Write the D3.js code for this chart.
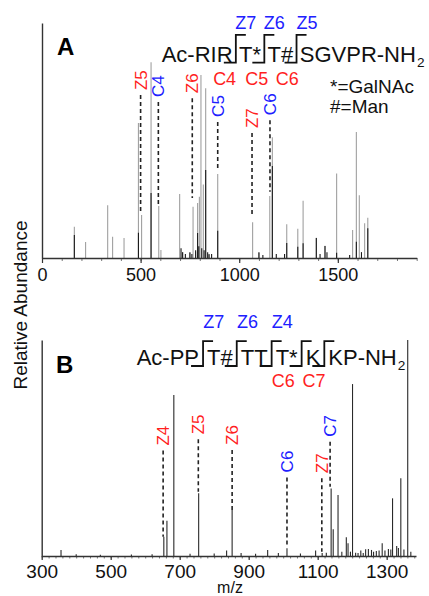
<!DOCTYPE html>
<html><head><meta charset="utf-8">
<script src="https://cdn.jsdelivr.net/npm/d3@7"></script>
<style>
body{margin:0;background:#fff}
svg{display:block}
text{font-family:"Liberation Sans",Arial,sans-serif}
</style>
</head><body>
<svg id="c" width="429" height="596"></svg>
<script>
// ---------------- Panel A data ----------------
const aGrayMz  = [164,221,333,358,416,489,505,553,592,603,698,713,750,766,779,789,798,806,818,830,847,891,1068,1100,1155,1168,1241,1297,1324,1391,1435,1494,1575,1594,1609,1636,1652];
const aGrayInt = [16,8.2,27,10.9,10.2,69,21.9,100,26.5,4.1,32.7,3.1,2.7,26.2,3.2,28.1,31.3,93.4,37.5,86.7,1.5,42.9,18.2,2.7,31.6,61.7,17.2,15,29.2,10.4,6.3,43.2,14.3,64.4,32.1,17.7,20.6];
const aBlackMz  = [164,489,553,705,713,727,750,760,779,789,795,810,822,830,840,847,860,891,1100,1120,1168,1188,1230,1241,1297,1324,1391,1410,1435,1445,1494,1560,1594,1620,1652];
const aBlackInt = [11.7,12.9,33.2,5,3,2,3,2,4,12.8,6,5,4,45,3,2,2,13.9,3,1.5,47,2,2,7.7,5.8,7.5,10.2,2,6.1,3,2.7,1.5,8.3,3,15.2];
const aXTicks = [0,500,1000,1500];
const aAnnLabel  = ["Z5","C4","Z6","C5","Z7","C6"];
const aAnnMz     = [500,590,762,891,1065,1156];
const aAnnTop    = [83.2,79.7,81.6,69.5,63.8,70.4];
const aAnnBottom = [23,27,30.6,45.9,21.1,33.8];
const aSeqSegments = ["Ac-RIR","T*","T#","SGVPR-NH"];
const aSeqTopLabels = ["Z7","Z6","Z5"];
const aSeqBottomLabels = ["C4","C5","C6"];
const aLegend = ["*=GalNAc","#=Man"];

// ---------------- Panel B data ----------------
const bMz  = [356,400,470,560,620,654,663,683,730,755,800,836,852,878,920,955,986,1011,1050,1094,1113,1125,1139,1145,1159,1170,1183,1188,1195,1201,1210,1217,1225,1232,1239,1247,1256,1262,1270,1278,1287,1295,1305,1312,1317,1329,1334,1341,1350,1361,1370];
const bInt = [2.8,0.8,0.6,0.7,0.8,8.9,16.3,74.5,1,29,1.2,2.5,21.3,1.4,1,2.8,1.4,3.6,1.2,2.5,1.4,1.5,31.3,12.4,28.2,2,8.7,5.9,2,79.6,1.5,1.4,2.5,1.4,3.1,3.2,2.8,2,2.3,2.5,5.9,2.5,3.2,3,26.7,4.6,3.7,36,3,100,2];
const bXTicks = [300,500,700,900,1100,1300];
const bAnnLabel  = ["Z4","Z5","Z6","C6","Z7","C7"];
const bAnnMz     = [652,754,852,1011,1112,1136];
const bAnnTop    = [48.8,54,49.1,36.4,36,52.9];
const bAnnBottom = [8.9,29.8,21.3,4.3,2,32.1];
const bSeqSegments = ["Ac-PP","T#","TT","T*","K","KP-NH"];
const bSeqTopLabels = ["Z7","Z6","Z4","",""];
const bSeqBottomLabels = ["","","","C6","C7"];

const RED = "#ff1f1f", BLUE = "#2020ff";
const svg = d3.select("#c");

function drawPanel(o) {
  const x = d3.scaleLinear().domain(o.xDomain).range([o.xLeft, o.xRight]);
  const y = d3.scaleLinear().domain(o.yDomain).range([o.yBase, o.yTop]);
  const g = svg.append("g");

  o.series.forEach(s => {
    g.append("g").selectAll("line").data(d3.zip(s.mz, s.int)).join("line")
      .attr("x1", d => x(d[0])).attr("x2", d => x(d[0]))
      .attr("y1", y(0)).attr("y2", d => y(d[1]))
      .attr("stroke", s.color).attr("stroke-width", s.width);
  });

  const minor = d3.axisBottom(x).tickValues(d3.range(o.xDomain[0], o.xDomain[1] + 1e-6, o.minorStep))
    .tickSize(o.minorLen).tickSizeOuter(0).tickFormat("");
  const gm = g.append("g").attr("transform", `translate(0,${o.yBase})`).call(minor);
  gm.select(".domain").remove();
  gm.selectAll("line").attr("stroke", "#555").attr("stroke-width", 0.8);

  const ax = d3.axisBottom(x).tickValues(o.xTicks).tickFormat(d3.format("d"))
    .tickSize(o.majorLen).tickSizeOuter(0).tickPadding(o.labelPad);
  const ga = g.append("g").attr("transform", `translate(0,${o.yBase})`).call(ax);
  ga.select(".domain").attr("stroke", "#333").attr("stroke-width", 1.3);
  ga.selectAll("line").attr("stroke", "#333").attr("stroke-width", 1.2);
  ga.selectAll("text").attr("font-size", o.tickFont).attr("fill", "#111")
    .attr("font-family", '"Liberation Sans",Arial,sans-serif');

  const ay = d3.axisLeft(y).tickValues([]).tickSizeOuter(0);
  const gy = g.append("g").attr("transform", `translate(${o.xLeft},0)`).call(ay);
  gy.select(".domain").attr("stroke", "#333").attr("stroke-width", 1.4);

  const ann = d3.range(o.ann.label.length).map(i => ({
    label: o.ann.label[i], mz: o.ann.mz[i], top: o.ann.top[i], bottom: o.ann.bottom[i]
  }));
  g.append("g").selectAll("line").data(ann).join("line")
    .attr("x1", d => x(d.mz)).attr("x2", d => x(d.mz))
    .attr("y1", d => y(d.top)).attr("y2", d => y(d.bottom))
    .attr("stroke", "#222").attr("stroke-width", 1.6).attr("stroke-dasharray", "4,3");
  g.append("g").selectAll("text").data(ann).join("text")
    .attr("transform", d => `translate(${x(d.mz) + o.annFont * 0.36},${y(d.top) - 5}) rotate(-90)`)
    .attr("font-size", o.annFont)
    .attr("fill", d => d.label[0] === "Z" ? RED : BLUE)
    .text(d => d.label);

  g.append("text").attr("x", o.letterX).attr("y", o.letterY)
    .attr("font-size", 24).attr("font-weight", "bold").text(o.letter);

  drawSequence(o.seq);
  return {x, y};
}

function drawSequence(s) {
  const g = svg.append("g");
  let cx = s.x;
  const segs = [];
  s.segments.forEach((t, i) => {
    const te = g.append("text").attr("x", cx).attr("y", s.baseline)
      .attr("font-size", s.font).attr("fill", "#111").text(t);
    const n = te.node();
    const w = n.getComputedTextLength();
    const firstW = n.getSubStringLength(0, 1);
    const lastW = n.getSubStringLength(t.length - 1, 1);
    segs.push({x0: cx, x1: cx + w, firstW, lastW});
    cx += w + s.gap;
  });
  g.append("text").attr("x", cx - s.gap + 1).attr("y", s.baseline + 5)
    .attr("font-size", s.font * 0.62).attr("fill", "#111").text("2");
  const capTop = s.baseline - s.font * 0.72;
  for (let i = 0; i < segs.length - 1; i++) {
    const bx = (segs[i].x1 + segs[i + 1].x0) / 2;
    const path = d3.path();
    path.moveTo(bx - s.under, s.baseline + 1);
    path.lineTo(bx, s.baseline + 1);
    path.lineTo(bx, capTop - s.over);
    path.lineTo(bx + s.overLen, capTop - s.over);
    g.append("path").attr("d", path.toString()).attr("fill", "none")
      .attr("stroke", "#111").attr("stroke-width", 1.8);
    const zc = segs[i + 1].x0 + segs[i + 1].firstW / 2;
    const cc = segs[i].x1 - segs[i].lastW / 2 + (s.bottomShift ? s.bottomShift[i] : 0);
    if (s.top[i]) g.append("text").attr("x", zc).attr("y", s.baseline + s.topDy)
      .attr("text-anchor", "middle").attr("font-size", s.labelFont).attr("fill", BLUE).text(s.top[i]);
    if (s.bottom[i]) g.append("text").attr("x", cc).attr("y", s.baseline + s.bottomDy)
      .attr("text-anchor", "middle").attr("font-size", s.labelFont).attr("fill", RED).text(s.bottom[i]);
  }
}

// Panel A
drawPanel({
  xDomain: [0, 1900], xLeft: 42, xRight: 416.7,
  yDomain: [0, 120], yBase: 258, yTop: 23,
  series: [
    {mz: aGrayMz, int: aGrayInt, color: "#a0a0a0", width: 1.1},
    {mz: aBlackMz, int: aBlackInt, color: "#1a1a1a", width: 1.1}
  ],
  xTicks: aXTicks, minorStep: 100, minorLen: 3, majorLen: 5, labelPad: 5, tickFont: 18,
  ann: {label: aAnnLabel, mz: aAnnMz, top: aAnnTop, bottom: aAnnBottom}, annFont: 17,
  letter: "A", letterX: 57, letterY: 55,
  seq: {segments: aSeqSegments, x: 161.7, baseline: 61.7, font: 22, gap: 6.5,
        under: 12, over: 11, overLen: 10, top: aSeqTopLabels, bottom: aSeqBottomLabels,
        topDy: -33, bottomDy: 23, labelFont: 18}
});
svg.append("g").selectAll("text").data(aLegend).join("text")
  .attr("x", 330).attr("y", (d, i) => 93 + i * 20)
  .attr("font-size", 19).attr("fill", "#111").text(d => d);

// Panel B
drawPanel({
  xDomain: [300, 1385], xLeft: 41.7, xRight: 416,
  yDomain: [0, 100], yBase: 556, yTop: 340,
  series: [
    {mz: bMz, int: bInt, color: "#2a2a2a", width: 1.1}
  ],
  xTicks: bXTicks, minorStep: 20, minorLen: 2.5, majorLen: 4, labelPad: 5, tickFont: 19,
  ann: {label: bAnnLabel, mz: bAnnMz, top: bAnnTop, bottom: bAnnBottom}, annFont: 17,
  letter: "B", letterX: 56, letterY: 373,
  seq: {segments: bSeqSegments, x: 136.7, baseline: 365, font: 22, gap: 8,
        under: 12, over: 8, overLen: 10, top: bSeqTopLabels, bottom: bSeqBottomLabels,
        bottomShift: [0, 0, 0, -10, 1],
        topDy: -37, bottomDy: 22, labelFont: 18}
});

svg.append("text").attr("transform", "translate(27,305) rotate(-90)")
  .attr("text-anchor", "middle").attr("font-size", 19).attr("fill", "#111").text("Relative Abundance");
svg.append("text").attr("x", 230).attr("y", 593)
  .attr("text-anchor", "middle").attr("font-size", 16).attr("fill", "#111").text("m/z");
</script>
</body></html>
